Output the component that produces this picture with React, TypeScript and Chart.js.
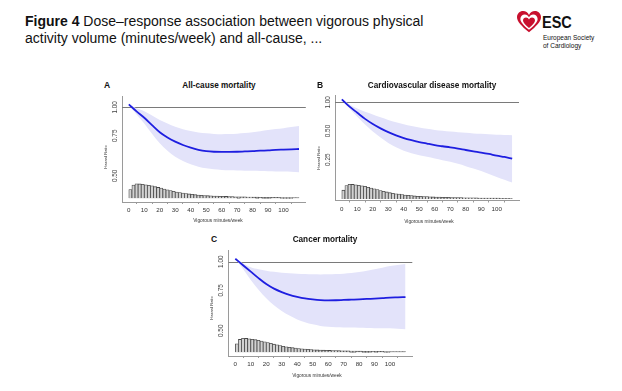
import React, { useEffect, useRef } from "react";
import { Chart, registerables } from "chart.js";
Chart.register(...registerables);

const FONT = '"Liberation Sans", Arial, Helvetica, sans-serif';

// ---------- data ----------
const MINUTES = [0, 5, 10, 15, 20, 25, 30, 35, 40, 45, 50, 55, 60, 65, 70, 75, 80, 85, 90, 95, 100, 105, 110];

const ALL_EST = [1.03, 0.96, 0.9, 0.835, 0.777, 0.737, 0.707, 0.683, 0.665, 0.651, 0.642, 0.638, 0.637, 0.637, 0.638, 0.64, 0.642, 0.645, 0.647, 0.65, 0.652, 0.654, 0.656];
const ALL_HI = [1.03, 0.99, 0.962, 0.92, 0.88, 0.85, 0.822, 0.802, 0.787, 0.776, 0.769, 0.764, 0.762, 0.763, 0.766, 0.771, 0.777, 0.786, 0.795, 0.803, 0.81, 0.819, 0.828];
const ALL_LO = [1.03, 0.93, 0.85, 0.765, 0.695, 0.645, 0.607, 0.581, 0.562, 0.549, 0.54, 0.534, 0.531, 0.529, 0.528, 0.527, 0.526, 0.525, 0.524, 0.523, 0.522, 0.521, 0.519];

const CVD_EST = [1.074, 0.9, 0.776, 0.67, 0.592, 0.533, 0.486, 0.45, 0.421, 0.4, 0.383, 0.369, 0.356, 0.346, 0.337, 0.327, 0.316, 0.306, 0.297, 0.287, 0.276, 0.267, 0.257];
const CVD_HI = [1.074, 0.95, 0.86, 0.795, 0.745, 0.695, 0.652, 0.617, 0.588, 0.563, 0.543, 0.527, 0.513, 0.503, 0.494, 0.486, 0.478, 0.472, 0.467, 0.461, 0.456, 0.454, 0.452];
const CVD_LO = [1.074, 0.86, 0.705, 0.585, 0.494, 0.427, 0.374, 0.337, 0.311, 0.293, 0.279, 0.268, 0.257, 0.247, 0.238, 0.226, 0.214, 0.202, 0.19, 0.177, 0.165, 0.154, 0.144];

const CAN_EST = [1.03, 0.965, 0.905, 0.848, 0.799, 0.763, 0.737, 0.717, 0.703, 0.692, 0.685, 0.68, 0.678, 0.679, 0.681, 0.683, 0.685, 0.688, 0.69, 0.693, 0.697, 0.699, 0.701];
const CAN_HI = [1.03, 0.985, 0.945, 0.927, 0.914, 0.903, 0.895, 0.89, 0.887, 0.883, 0.881, 0.88, 0.881, 0.883, 0.887, 0.893, 0.901, 0.912, 0.926, 0.94, 0.957, 0.967, 0.977];
const CAN_LO = [1.03, 0.93, 0.832, 0.755, 0.692, 0.645, 0.61, 0.582, 0.56, 0.545, 0.533, 0.525, 0.52, 0.518, 0.517, 0.516, 0.515, 0.514, 0.513, 0.512, 0.512, 0.51, 0.507];

// histogram of vigorous minutes/week (2-minute bins, bin midpoints)
const HIST_BIN_MID = [1, 3, 5, 7, 9, 11, 13, 15, 17, 19, 21, 23, 25, 27, 29, 31, 33, 35, 37, 39, 41, 43, 45, 47, 49, 51, 53, 55, 57, 59, 61, 63, 65, 67, 69, 71, 73, 75, 77, 79, 81, 83, 85, 87, 89, 91, 93, 95, 97, 99, 101, 103, 105, 107, 109];
const HIST_DENSITY = [0.6, 0.92, 1.0, 0.99, 0.96, 0.93, 0.9, 0.86, 0.8, 0.75, 0.7, 0.64, 0.58, 0.53, 0.48, 0.43, 0.39, 0.36, 0.33, 0.3, 0.27, 0.25, 0.23, 0.21, 0.19, 0.18, 0.17, 0.16, 0.15, 0.14, 0.135, 0.13, 0.12, 0.115, 0.11, 0.105, 0.1, 0.095, 0.09, 0.085, 0.08, 0.078, 0.075, 0.072, 0.07, 0.067, 0.065, 0.062, 0.06, 0.058, 0.056, 0.054, 0.052, 0.05, 0.048];

const X_TICKS = [0, 10, 20, 30, 40, 50, 60, 70, 80, 90, 100];
const HR_TICKS_A = [0.5, 0.75, 1.0];
const HR_TICKS_B = [0.25, 0.5, 1.0];
const HR_TICKS_C = [0.5, 0.75, 1.0];
const REFERENCE_HR = 1;
const X_MIN = -4.4;
const X_MAX = 114.4;

// ---------- styles ----------
const AXIS_GREY = "#9a9a9a";
const REF_GREY = "#7a7a7a";
const CURVE_BLUE = "#1e1ee0";
const BAND = "#e3e3fa";

type Area = { l: number; r: number; t: number; b: number };
type PanelProps = {
  est: number[];
  lo: number[];
  hi: number[];
  hrTicks: number[];
  area: Area;
  yMin: number;
  yMax: number;
  histBase: number;
  histPeak: number;
};

const refLinePlugin = {
  id: "refLine",
  beforeDatasetsDraw(chart: any) {
    const { ctx, chartArea, scales } = chart;
    const y = Math.round(scales.y.getPixelForValue(REFERENCE_HR)) + 0.5;
    ctx.save();
    ctx.strokeStyle = REF_GREY;
    ctx.lineWidth = 1;
    ctx.beginPath();
    ctx.moveTo(chartArea.left, y);
    ctx.lineTo(chartArea.right, y);
    ctx.stroke();
    ctx.restore();
  },
};

function Panel(p: PanelProps) {
  const ref = useRef<HTMLCanvasElement>(null);
  const LEFT_M = 30, BOTTOM_M = 22, TOP_M = 4, RIGHT_M = 4;
  const cl = Math.floor(p.area.l) - LEFT_M;
  const ct = Math.floor(p.area.t) - TOP_M;
  const cw = Math.ceil(p.area.r) + RIGHT_M - cl;
  const ch = Math.ceil(p.area.b) + BOTTOM_M - ct;

  useEffect(() => {
    const yAxisW = p.area.l - cl;
    const padTop = p.area.t - ct;
    const padRight = cl + cw - p.area.r;
    const chartH = p.area.b - p.area.t;
    const xAxisH = ch - padTop - chartH;
    const peak = Math.max(...HIST_DENSITY);
    const hMin = (-p.histBase / p.histPeak) * peak;
    const hMax = hMin + (chartH / p.histPeak) * peak;
    const pts = (arr: number[]) => MINUTES.map((m, i) => ({ x: m, y: arr[i] }));

    const chart = new Chart(ref.current as HTMLCanvasElement, {
      type: "line",
      data: {
        datasets: [
          {
            data: pts(p.est),
            borderColor: CURVE_BLUE,
            borderWidth: 1.8,
            pointRadius: 0,
            cubicInterpolationMode: "monotone",
            fill: false,
            yAxisID: "y",
          },
          {
            data: pts(p.hi),
            borderWidth: 0,
            borderColor: "rgba(0,0,0,0)",
            backgroundColor: BAND,
            pointRadius: 0,
            cubicInterpolationMode: "monotone",
            fill: "+1",
            yAxisID: "y",
          },
          {
            data: pts(p.lo),
            borderWidth: 0,
            borderColor: "rgba(0,0,0,0)",
            pointRadius: 0,
            cubicInterpolationMode: "monotone",
            fill: false,
            yAxisID: "y",
          },
          {
            type: "bar",
            data: HIST_BIN_MID.map((m, i) => ({ x: m, y: HIST_DENSITY[i] })),
            yAxisID: "h",
            backgroundColor: "#d2d2d2",
            borderColor: "#474747",
            borderWidth: 0.8,
            barPercentage: 1,
            categoryPercentage: 1,
          } as any,
        ],
      },
      options: {
        animation: false,
        responsive: false,
        maintainAspectRatio: false,
        events: [],
        layout: { padding: { top: padTop, right: padRight, left: 0, bottom: 0 } },
        plugins: {
          legend: { display: false },
          tooltip: { enabled: false },
          title: { display: false },
        },
        scales: {
          x: {
            type: "linear",
            min: X_MIN,
            max: X_MAX,
            offset: false,
            grid: { display: true, drawOnChartArea: false, drawTicks: true, tickLength: 2, color: AXIS_GREY },
            border: { display: true, color: AXIS_GREY, width: 1 },
            ticks: { padding: 3, font: { family: FONT, size: 6.2 }, color: "#333", maxRotation: 0, autoSkip: false },
            afterBuildTicks: (s: any) => {
              s.ticks = X_TICKS.map((v) => ({ value: v }));
            },
            afterFit: (s: any) => {
              s.height = xAxisH;
              s.paddingLeft = 0;
              s.paddingRight = 0;
            },
          },
          y: {
            type: "logarithmic",
            position: "left",
            min: p.yMin,
            max: p.yMax,
            grid: { display: false, drawOnChartArea: false, drawTicks: false },
            border: { display: true, color: AXIS_GREY, width: 1 },
            ticks: {
              minRotation: 90,
              maxRotation: 90,
              crossAlign: "center",
              padding: 1,
              font: { family: FONT, size: 6.4 },
              color: "#444",
              autoSkip: false,
              callback: (v: any) => Number(v).toFixed(2),
            },
            afterBuildTicks: (s: any) => {
              s.ticks = p.hrTicks.map((v) => ({ value: v }));
            },
            afterFit: (s: any) => {
              s.width = yAxisW;
              s.paddingTop = 0;
              s.paddingBottom = 0;
            },
          },
          h: { type: "linear", display: false, min: hMin, max: hMax },
        },
      } as any,
      plugins: [refLinePlugin],
    });
    return () => chart.destroy();
  }, []);

  return (
    <canvas
      ref={ref}
      width={cw}
      height={ch}
      style={{ position: "absolute", left: cl, top: ct, width: cw, height: ch }}
    />
  );
}

function Txt(props: {
  x: number;
  y: number;
  size: number;
  text: string;
  bold?: boolean;
  rotate?: number;
  align?: "center" | "left";
  color?: string;
}) {
  const base = 20;
  const s = props.size / base;
  const center = props.align !== "left";
  return (
    <div
      style={{
        position: "absolute",
        left: props.x,
        top: props.y,
        fontFamily: FONT,
        fontSize: base,
        lineHeight: 1,
        fontWeight: props.bold ? "bold" : "normal",
        whiteSpace: "nowrap",
        color: props.color || "#111",
        transformOrigin: center ? "50% 50%" : "0 50%",
        transform: center
          ? `translate(-50%,-50%) rotate(${props.rotate || 0}deg) scale(${s})`
          : `translate(0,-50%) scale(${s})`,
      }}
    >
      {props.text}
    </div>
  );
}

function Logo() {
  const heart =
    "M11 19.5 C 4 13.5, 0 9.5, 0 5.6 C 0 2.4, 2.5 0, 5.6 0 C 8 0, 10 1.4, 11 3.6 C 12 1.4, 14 0, 16.4 0 C 19.5 0, 22 2.4, 22 5.6 C 22 9.5, 18 13.5, 11 19.5 Z";
  return (
    <>
      <svg width={24} height={22} viewBox="0 0 22 20" style={{ position: "absolute", left: 517, top: 11 }}>
        <path d={heart} fill="#c8102e" />
        <g transform="translate(11 10) scale(0.72) translate(-11 -9.5)">
          <path d={heart} fill="#ffffff" />
        </g>
        <g transform="translate(11 10.6) scale(0.5) translate(-11 -9.5)">
          <path d={heart} fill="#c8102e" />
        </g>
      </svg>
      <div
        style={{
          position: "absolute",
          left: 542,
          top: 12,
          fontFamily: FONT,
          fontWeight: "bold",
          fontSize: 16.5,
          lineHeight: "20px",
          color: "#111",
          transform: "scaleX(0.88)",
          transformOrigin: "0 0",
        }}
      >
        ESC
      </div>
      <Txt x={543} y={38} size={6.5} text="European Society" align="left" />
      <Txt x={543} y={45.5} size={6.5} text="of Cardiology" align="left" />
    </>
  );
}

export default function App() {
  return (
    <div
      style={{
        position: "fixed",
        left: 0,
        top: 0,
        width: 622,
        height: 391,
        background: "#ffffff",
        overflow: "hidden",
      }}
    >
      <div
        style={{
          position: "absolute",
          left: 25,
          top: 13,
          fontFamily: FONT,
          fontSize: 14,
          lineHeight: "17px",
          color: "#111",
          whiteSpace: "nowrap",
        }}
      >
        <b>Figure 4</b> Dose–response association between vigorous physical
        <br />
        activity volume (minutes/week) and all-cause, ...
      </div>
      <Logo />

      <Panel
        est={ALL_EST}
        lo={ALL_LO}
        hi={ALL_HI}
        hrTicks={HR_TICKS_A}
        area={{ l: 122, r: 305.8, t: 96, b: 202 }}
        yMin={0.384}
        yMax={1.121}
        histBase={3.7}
        histPeak={14.5}
      />
      <Panel
        est={CVD_EST}
        lo={CVD_LO}
        hi={CVD_HI}
        hrTicks={HR_TICKS_B}
        area={{ l: 335, r: 519, t: 95, b: 200.5 }}
        yMin={0.0933}
        yMax={1.193}
        histBase={1.5}
        histPeak={14.7}
      />
      <Panel
        est={CAN_EST}
        lo={CAN_LO}
        hi={CAN_HI}
        hrTicks={HR_TICKS_C}
        area={{ l: 228.5, r: 412.3, t: 250.4, b: 356 }}
        yMin={0.388}
        yMax={1.12}
        histBase={3.7}
        histPeak={14}
      />

      <Txt x={107} y={85} size={8.5} bold text="A" />
      <Txt x={219} y={85} size={8.2} bold text="All-cause mortality" />
      <Txt x={320} y={85} size={8.5} bold text="B" />
      <Txt x={432} y={85} size={8.2} bold text="Cardiovascular disease mortality" />
      <Txt x={214} y={239.3} size={8.5} bold text="C" />
      <Txt x={325.3} y={239.3} size={8.2} bold text="Cancer mortality" />

      <Txt x={106} y={157} size={4} rotate={-90} text="Hazard Ratio" color="#333" />
      <Txt x={319} y={158} size={4} rotate={-90} text="Hazard Ratio" color="#333" />
      <Txt x={212} y={308.3} size={4} rotate={-90} text="Hazard Ratio" color="#333" />

      <Txt x={218.3} y={220} size={4.8} text="Vigorous minutes/week" color="#333" />
      <Txt x={429.3} y={220.7} size={4.8} text="Vigorous minutes/week" color="#333" />
      <Txt x={317.3} y={375} size={4.8} text="Vigorous minutes/week" color="#333" />
    </div>
  );
}
